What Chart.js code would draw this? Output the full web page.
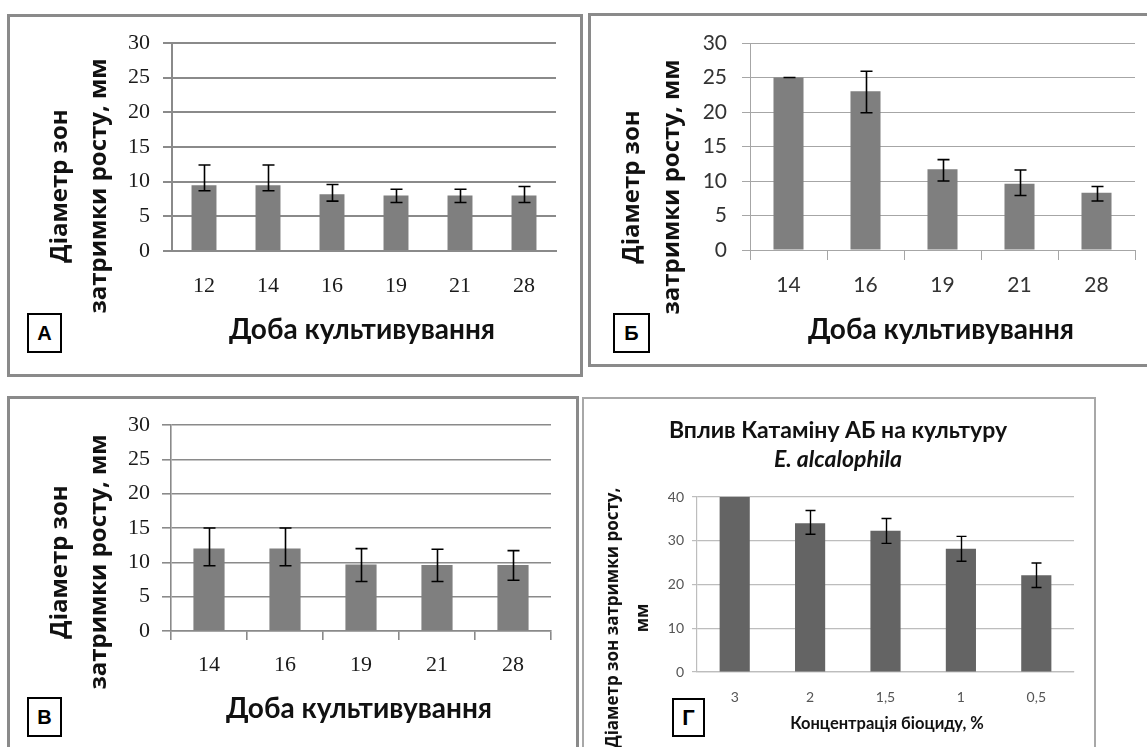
<!DOCTYPE html>
<html><head><meta charset="utf-8">
<script src="https://cdn.jsdelivr.net/npm/chart.js@4.4.0/dist/chart.umd.min.js"></script>
<style>
html,body{margin:0;padding:0;background:#fff;width:1147px;height:747px;overflow:hidden;position:relative}
.panel{position:absolute;box-sizing:border-box;background:#fff;z-index:0}
canvas{position:absolute;left:0;top:0;z-index:1}
.ytitle{position:absolute;z-index:2;text-align:center;white-space:nowrap;font-family:"Open Sans",sans-serif;font-weight:700;color:#111;transform:rotate(-90deg);transform-origin:50% 50%}
.xtitle{position:absolute;z-index:2;text-align:center;white-space:nowrap;font-family:Lato,sans-serif;font-weight:700;color:#111}
.box{position:absolute;z-index:3;box-sizing:border-box;border:2px solid #000;background:#fff;font-family:"Liberation Sans",Arial,sans-serif;font-weight:700;font-size:20px;display:flex;align-items:center;justify-content:center;color:#000}
</style></head>
<body>
<div class="panel" style="left:7px;top:14px;width:576px;height:363px;border:3px solid #8a8a8a"></div>
<div class="panel" style="left:588px;top:13px;width:570px;height:354px;border:3px solid #8a8a8a"></div>
<div class="panel" style="left:7px;top:396px;width:572px;height:370px;border:3px solid #8a8a8a"></div>
<div class="panel" style="left:582px;top:397px;width:514px;height:370px;border:2px solid #a8a8a8"></div>

<canvas id="cA" width="1147" height="747"></canvas>
<canvas id="cB" width="1147" height="747"></canvas>
<canvas id="cV" width="1147" height="747"></canvas>
<canvas id="cG" width="1147" height="747"></canvas>

<div class="ytitle" style="left:-83.5px;top:147px;width:320px;height:78px;line-height:39px;font-size:24px">Діаметр зон<br>затримки росту, мм</div>
<div class="ytitle" style="left:490px;top:147px;width:320px;height:80px;line-height:40px;font-size:24px">Діаметр зон<br>затримки росту, мм</div>
<div class="ytitle" style="left:-83.5px;top:523px;width:320px;height:78px;line-height:39px;font-size:24px">Діаметр зон<br>затримки росту, мм</div>
<div class="ytitle" style="left:461.5px;top:588px;width:330px;height:60px;line-height:30px;font-size:17px">Діаметр зон затримки росту,<br>мм</div>

<div class="xtitle" style="left:162px;top:311px;width:400px;font-size:28px;line-height:34px">Доба культивування</div>
<div class="xtitle" style="left:741px;top:311px;width:400px;font-size:28px;line-height:34px">Доба культивування</div>
<div class="xtitle" style="left:159px;top:690px;width:400px;font-size:28px;line-height:34px">Доба культивування</div>
<div class="xtitle" style="left:737px;top:712px;width:300px;font-size:16.5px;line-height:22px">Концентрація біоциду, %</div>

<div class="xtitle" style="left:588px;top:415px;width:500px;font-size:23px;line-height:28px">Вплив Катаміну АБ на культуру</div>
<div class="xtitle" style="left:588px;top:444px;width:500px;font-size:23px;line-height:28px;font-style:italic">E. alcalophila</div>

<div class="box" style="left:27px;top:313px;width:35px;height:40px">А</div>
<div class="box" style="left:613px;top:313px;width:37px;height:40px">Б</div>
<div class="box" style="left:27px;top:697px;width:35px;height:40px">В</div>
<div class="box" style="left:672px;top:698px;width:33px;height:39px;font-size:22px">Г</div>

<script>
// ---- data ----
const daysA = ['12','14','16','19','21','28'];
const valuesA = [9.5, 9.5, 8.2, 8.0, 8.0, 8.0];
const lowA = [8.7, 8.7, 7.2, 7.0, 7.0, 7.0];
const highA = [12.4, 12.4, 9.6, 8.9, 8.9, 9.3];

const daysB = ['14','16','19','21','28'];
const valuesB = [25, 23, 11.7, 9.6, 8.3];
const lowB = [25, 19.9, 10.0, 7.9, 7.1];
const highB = [25, 25.9, 13.1, 11.6, 9.2];

const daysV = ['14','16','19','21','28'];
const valuesV = [12.0, 12.0, 9.7, 9.6, 9.6];
const lowV = [9.5, 9.5, 7.2, 7.2, 7.4];
const highV = [15.0, 15.0, 12.0, 11.9, 11.7];

const concG = ['3','2','1,5','1','0,5'];
const valuesG = [40, 34.0, 32.3, 28.2, 22.1];
const lowG = [null, 31.5, 29.4, 25.3, 19.3];
const highG = [null, 36.9, 35.1, 31.0, 24.9];

const yMaxDays = 30, yStepDays = 5;
const yMaxConc = 40, yStepConc = 10;

// ---- error bar plugin ----
const errorBars = {
  id: 'errorBars',
  afterDatasetsDraw(chart, args, opts) {
    const ctx = chart.ctx, ys = chart.scales.y;
    const meta = chart.getDatasetMeta(0);
    ctx.save();
    ctx.strokeStyle = opts.color; ctx.lineWidth = opts.width;
    meta.data.forEach((bar, i) => {
      const lo = opts.low[i], hi = opts.high[i];
      if (lo == null || hi == null) return;
      const yl = ys.getPixelForValue(lo), yh = ys.getPixelForValue(hi);
      const x = Math.round(bar.x) + 0.5, c = opts.cap;
      ctx.beginPath();
      ctx.moveTo(x, yl); ctx.lineTo(x, yh);
      ctx.moveTo(x - c, yl); ctx.lineTo(x + c, yl);
      ctx.moveTo(x - c, yh); ctx.lineTo(x + c, yh);
      ctx.stroke();
    });
    ctx.restore();
  }
};

function makeChart(id, c) {
  const W = 1147, H = 747;
  new Chart(document.getElementById(id), {
    type: 'bar',
    data: { labels: c.labels, datasets: [{ data: c.values, backgroundColor: c.barColor, borderWidth: 0,
      categoryPercentage: 1, barPercentage: c.barPct }] },
    plugins: [errorBars],
    options: {
      responsive: false, animation: false, devicePixelRatio: 1,
      layout: { padding: { left: c.area.left - c.yW, top: c.area.top, right: W - c.area.right, bottom: H - c.area.bottom - c.xH } },
      plugins: { legend: { display: false }, tooltip: { enabled: false },
        errorBars: { low: c.low, high: c.high, color: '#000', width: c.errW, cap: c.cap } },
      scales: {
        x: {
          afterFit(s) { s.height = c.xH; },
          grid: { display: c.xTicks, drawOnChartArea: false, drawTicks: c.xTicks, tickLength: c.xTickLen, color: c.gridColor, lineWidth: c.gridW, offset: true },
          border: { display: true, color: c.gridColor, width: c.gridW },
          ticks: { padding: c.xPad, color: c.tickColor, font: c.font, maxRotation: 0, autoSkip: false }
        },
        y: {
          min: 0, max: c.yMax,
          afterFit(s) { s.width = c.yW; },
          grid: { color: c.gridColor, lineWidth: c.gridW, drawTicks: true, tickLength: c.yTickLen },
          border: { display: true, color: c.gridColor, width: c.gridW },
          ticks: { stepSize: c.yStep, padding: c.yPad, color: c.tickColor, font: c.font }
        }
      }
    }
  });
}

const serif = { family: '"Liberation Serif", serif', size: 22 };
const calib = { family: 'Lato, sans-serif', size: 21 };

makeChart('cA', { labels: daysA, values: valuesA, low: lowA, high: highA,
  area: { left: 172, right: 556, top: 43, bottom: 251 }, yW: 72, xH: 50,
  yMax: yMaxDays, yStep: yStepDays, barColor: '#7f7f7f', barPct: 0.39,
  gridColor: '#8a8a8a', gridW: 2, tickColor: '#1a1a1a', font: serif,
  xTicks: false, xTickLen: 0, xPad: 22, yTickLen: 9, yPad: 13, errW: 1.6, cap: 6 });

makeChart('cB', { labels: daysB, values: valuesB, low: lowB, high: highB,
  area: { left: 750, right: 1135, top: 43, bottom: 250 }, yW: 72, xH: 50,
  yMax: yMaxDays, yStep: yStepDays, barColor: '#7f7f7f', barPct: 0.39,
  gridColor: '#a6a6a6', gridW: 1, tickColor: '#333', font: calib,
  xTicks: true, xTickLen: 10, xPad: 13, yTickLen: 8, yPad: 15, errW: 1.6, cap: 6 });

makeChart('cV', { labels: daysV, values: valuesV, low: lowV, high: highV,
  area: { left: 171, right: 551, top: 425, bottom: 631 }, yW: 72, xH: 50,
  yMax: yMaxDays, yStep: yStepDays, barColor: '#7f7f7f', barPct: 0.41,
  gridColor: '#8a8a8a', gridW: 1.6, tickColor: '#1a1a1a', font: serif,
  xTicks: true, xTickLen: 9, xPad: 12, yTickLen: 9, yPad: 12, errW: 1.6, cap: 6 });

makeChart('cG', { labels: concG, values: valuesG, low: lowG, high: highG,
  area: { left: 697, right: 1074, top: 497, bottom: 672 }, yW: 60, xH: 40,
  yMax: yMaxConc, yStep: yStepConc, barColor: '#646464', barPct: 0.40,
  gridColor: '#bdbdbd', gridW: 1.2, tickColor: '#555', font: { family: 'Lato, sans-serif', size: 14 },
  xTicks: false, xTickLen: 0, xPad: 17, yTickLen: 5, yPad: 8, errW: 1.4, cap: 5 });
</script>
</body></html>
